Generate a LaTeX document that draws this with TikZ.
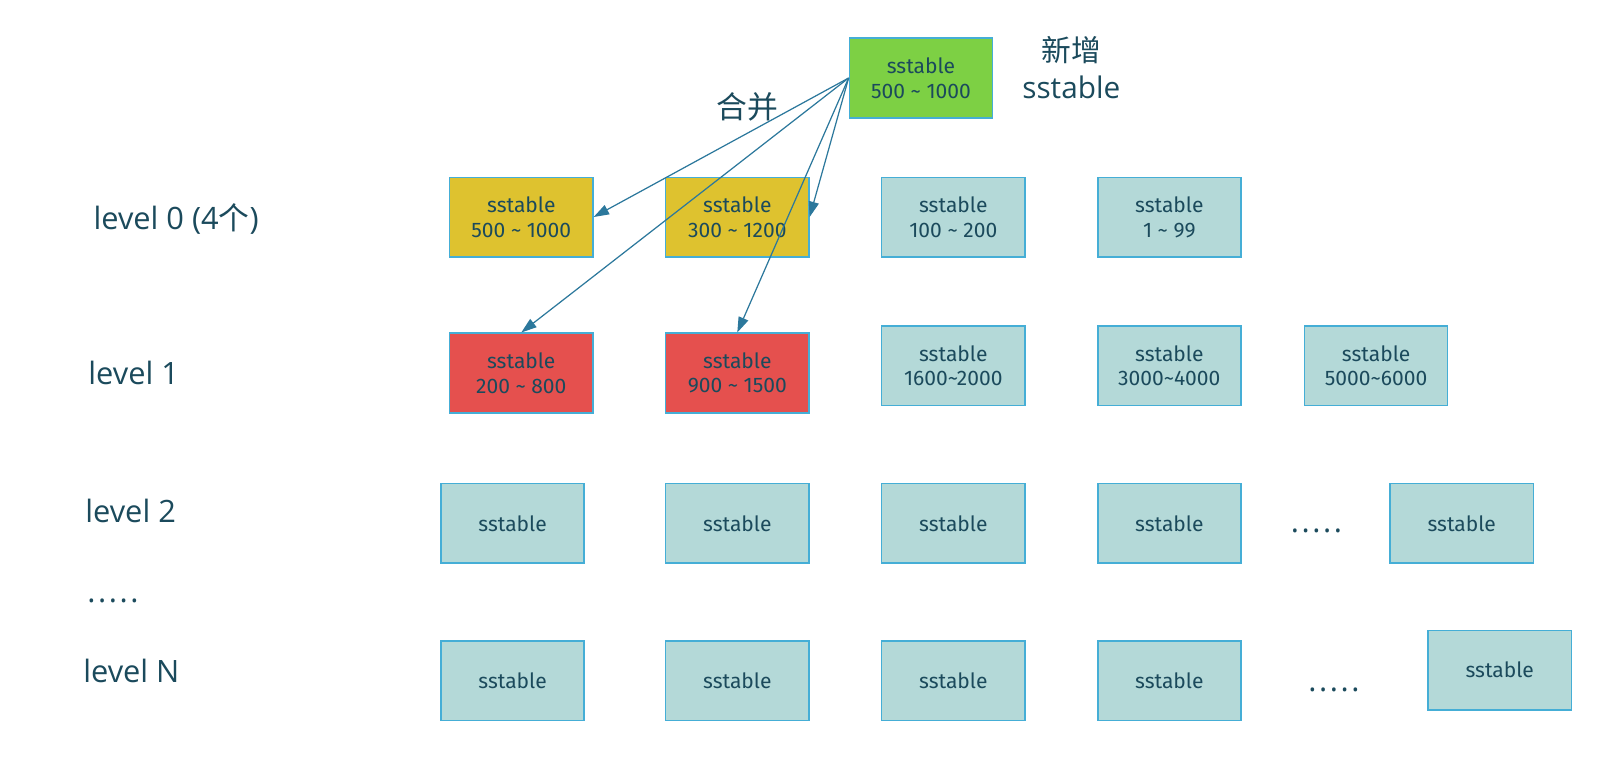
\documentclass[tikz,border=0pt]{standalone}
\usepackage{fontspec}
\setmainfont{Open Sans}
\newfontfamily\cjk{Noto Sans CJK SC}
\newfontfamily\boxfont{Fira Sans}
\usetikzlibrary{arrows.meta}
\definecolor{txt}{HTML}{1B4A5C}
\definecolor{edge}{HTML}{45AED6}
\definecolor{tealfill}{HTML}{B4D9D8}
\definecolor{yellfill}{HTML}{DEC22F}
\definecolor{redfill}{HTML}{E5504E}
\definecolor{greenfill}{HTML}{7DD044}
\definecolor{arr}{HTML}{2C789C}
\tikzset{
  sst/.style={draw=edge, line width=1.5pt, fill=tealfill, minimum width=139.5pt,
    minimum height=77.5pt, align=center, text=txt, inner sep=0pt,
    font=\boxfont\fontsize{20.5}{24}\selectfont},
  lvl/.style={anchor=west, inner sep=0pt, text=txt, font=\fontsize{30}{36}\selectfont},
  dots/.style={inner sep=0pt, text=txt, font=\fontsize{30}{36}\selectfont},
  merge/.style={draw=arr, line width=1.2pt, -{Triangle[length=15pt,width=10pt]}},
}
\newcommand{\rng}[2]{sstable\\#1 \textasciitilde{} #2}
\newcommand{\fivedots}{.\kern2.5pt.\kern2.5pt.\kern2.5pt.\kern2.5pt.}
\begin{document}
\begin{tikzpicture}[x=1pt,y=-1pt]
\useasboundingbox (0,0) rectangle (1568,740);

% new table on top
\node[sst, fill=greenfill] (new) at (897.5,76) {\rng{500}{1000}};
\node[text=txt, align=center, font=\fontsize{29}{36}\selectfont] (newlab) at (1044,66)
  {{\cjk 新增}\\sstable};
\node[text=txt, font=\cjk\fontsize{30}{36}\selectfont] (mergelab) at (728,104) {合并};

% level 0
\node[lvl] (lab0) at (91,213) {level 0 (4{\cjk 个})};
\node[sst, fill=yellfill] (l0a) at (508,211.5) {\rng{500}{1000}};
\node[sst, fill=yellfill] (l0b) at (718.5,211.5) {\rng{300}{1200}};
\node[sst] (l0c) at (929,211.5) {\rng{100}{200}};
\node[sst] (l0d) at (1139.5,211.5) {\rng{1}{99}};

% level 1
\node[lvl] (lab1) at (86,363) {level 1};
\node[sst, fill=redfill] (l1a) at (508,363.5) {\rng{200}{800}};
\node[sst, fill=redfill] (l1b) at (718.5,363.5) {\rng{900}{1500}};
\node[sst] (l1c) at (929,356.5) {sstable\\1600\textasciitilde2000};
\node[sst] (l1d) at (1139.5,356.5) {sstable\\3000\textasciitilde4000};
\node[sst] (l1e) at (1341,356.5) {sstable\\5000\textasciitilde6000};

% level 2
\node[lvl] (lab2) at (83,498) {level 2};
\foreach \x [count=\i] in {499.5,718.5,929,1139.5,1424.5}
  \node[sst] (l2\i) at (\x,510) {sstable};
\node[dots] (dots2) at (1283,517) {\fivedots};

\node[dots] (dotsmid) at (110,586) {\fivedots};

% level N
\node[lvl] (labN) at (81,654) {level N};
\foreach \x [count=\i] in {499.5,718.5,929,1139.5}
  \node[sst] (lN\i) at (\x,663.5) {sstable};
\node[sst] (lN5) at (1461.5,653) {sstable};
\node[dots] (dotsN) at (1300,672) {\fivedots};

% merge arrows
\draw[merge] (new.west) -- (l0a.east);
\draw[merge] (new.west) -- (l0b.east);
\draw[merge] (new.west) -- (l1a.north);
\draw[merge] (new.west) -- (l1b.north);
\end{tikzpicture}
\end{document}
